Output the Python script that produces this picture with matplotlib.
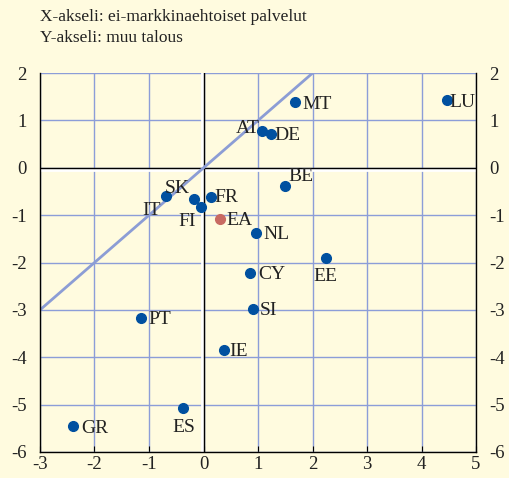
import matplotlib.pyplot as plt

plt.rcParams['font.family'] = ['Liberation Serif', 'DejaVu Serif']
plt.rcParams['axes.unicode_minus'] = False

maat = ['MT', 'LU', 'AT', 'DE', 'BE', 'SK', 'FR', 'IT', 'FI', 'EA', 'NL',
        'EE', 'CY', 'SI', 'PT', 'IE', 'ES', 'GR']
x_arvot = [1.67, 4.46, 1.08, 1.23, 1.49, -0.18, 0.13, -0.68, -0.04, 0.31,
           0.97, 2.24, 0.86, 0.90, -1.14, 0.37, -0.37, -2.40]
y_arvot = [1.39, 1.43, 0.78, 0.72, -0.38, -0.65, -0.61, -0.59, -0.82, -1.08,
           -1.37, -1.90, -2.22, -2.97, -3.16, -3.84, -5.08, -5.46]
# label offsets in points (dx, dy)
siirrot = {'MT': (6, 0), 'LU': (2, 0), 'AT': (-2, 3), 'DE': (3, 0), 'BE': (3, 8),
           'SK': (-3, 9), 'FR': (3, 1), 'IT': (-4, -9), 'FI': (-4, -9),
           'EA': (4, 0), 'NL': (5, 0), 'EE': (0, -12), 'CY': (6, 0),
           'SI': (5, 0), 'PT': (5, 0), 'IE': (4, 0), 'ES': (0, -12), 'GR': (6, 0)}
tasaus = {'AT': 'right', 'SK': 'right', 'IT': 'right', 'FI': 'right',
          'EE': 'center', 'ES': 'center', 'BE': 'left'}

tausta = '#FFFBDF'
sininen = '#0050A0'
ruudukko = '#8C9DD8'
teksti = '#222222'

fig = plt.figure(figsize=(5.1, 4.78), dpi=100, facecolor=tausta)
ax = fig.add_axes([0.0784, 0.0544, 0.855, 0.7926], facecolor=tausta)

ax.set_xlim(-3, 5)
ax.set_ylim(-6, 2)
ax.set_xticks(range(-3, 6))
ax.set_yticks(range(-6, 3))
ax.grid(True, color=ruudukko, linewidth=1)
ax.set_axisbelow(True)

# zero lines, black with a thin white edge
ax.plot([-3, 5], [-0.035, -0.035], color='white', linewidth=2, zorder=1.5)
ax.axhline(0, color='black', linewidth=1, zorder=1.6)
ax.plot([-0.03, -0.03], [-6, 2], color='white', linewidth=2, zorder=1.5)
ax.axvline(0, color='black', linewidth=1, zorder=1.6)

ax.plot([-3, 2], [-3, 2], color='#8C9DD5', linewidth=2, zorder=2)

for m, x, y in zip(maat, x_arvot, y_arvot):
    vari = '#C86A62' if m == 'EA' else sininen
    ax.plot(x, y, 'o', color=vari, markersize=7, zorder=3)
    dx, dy = siirrot[m]
    ax.annotate(m, (x, y), xytext=(dx, dy), textcoords='offset points',
                ha=tasaus.get(m, 'left'), va='center_baseline', fontsize=14,
                color=teksti, zorder=4)

for s in ['left', 'right', 'bottom']:
    ax.spines[s].set_color('black')
    ax.spines[s].set_linewidth(1)
ax.spines['top'].set_visible(False)

ax.tick_params(axis='x', direction='in', length=4, labelsize=13.5, pad=3,
               colors='black', labelcolor=teksti)
ax.tick_params(axis='y', left=False, right=False, labelleft=True,
               labelright=True, labelsize=13.5, pad=6, labelcolor=teksti)

fig.text(0.078, 0.965, 'X-akseli: ei-markkinaehtoiset palvelut', fontsize=12.5,
         color=teksti, va='center')
fig.text(0.078, 0.92, 'Y-akseli: muu talous', fontsize=12.5,
         color=teksti, va='center')

fig.savefig('out.png', dpi=100, facecolor=tausta)
